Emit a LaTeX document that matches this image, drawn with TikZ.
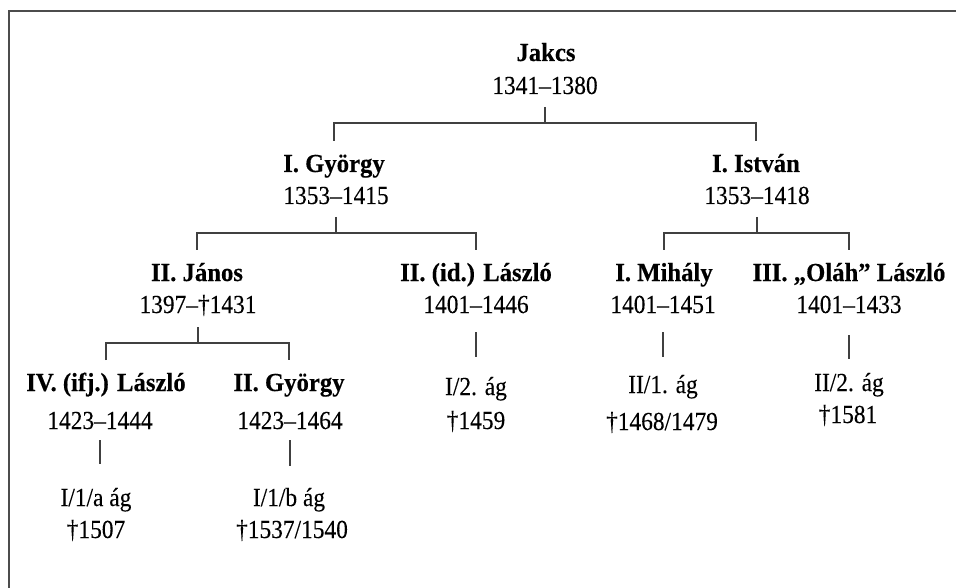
\documentclass[tikz,border=0pt]{standalone}
\usepackage{fontspec}
\setmainfont{Liberation Serif}[FakeStretch=0.9,FakeBold=0.15]
\newfontfamily\nmfont{Liberation Serif}[FakeStretch=0.95,BoldFeatures={FakeBold=0.35,FakeStretch=0.95}]
\begin{document}
\begin{tikzpicture}[x=1pt,y=-1pt,
  nm/.style={anchor=base,inner sep=0pt,font=\nmfont\fontsize{26}{30}\selectfont\bfseries},
  dt/.style={anchor=base,inner sep=0pt,font=\fontsize{26}{30}\selectfont},
  link/.style={draw=black!75,line width=1.1pt},
  framestyle/.style={draw=black!70,line width=1.5pt}]
\useasboundingbox (0,0) rectangle (956,588);
\clip (0,0) rectangle (956,588);
\fill[white] (0,0) rectangle (956,588);
% frame (open at right and bottom)
\coordinate (fr-tr) at (962,11);
\coordinate (fr-tl) at (9,11);
\coordinate (fr-bl) at (9,594);
\draw[framestyle] (fr-tr) -- (fr-tl) -- (fr-bl);
% bar levels
\coordinate (bar1) at (0,123);
\coordinate (bar2) at (0,233);
\coordinate (bar3) at (0,343);
% row 1
\node[nm] (jakcs) at (546,61) {Jakcs};
\node[dt] (jakcs-d) at (545,94) {1341–1380};
% row 2
\node[nm] (gy1) at (334,172) {I. György};
\node[dt] (gy1-d) at (336,204) {1353–1415};
\node[nm] (is1) at (756,172) {I. István};
\node[dt] (is1-d) at (757,204) {1353–1418};
% row 3
\node[nm] (ja2) at (197,281) {II. János};
\node[dt] (ja2-d) at (198,313) {1397–†1431};
\node[nm] (la2) at (476,281) {II. (id.) László};
\node[dt] (la2-d) at (476,313) {1401–1446};
\node[nm] (mi1) at (664,281) {I. Mihály};
\node[dt] (mi1-d) at (663,313) {1401–1451};
\node[nm] (la3) at (849,281) {III. „Oláh” László};
\node[dt] (la3-d) at (849,313) {1401–1433};
% branch labels of row 3
\node[dt] (br-i2) at (476,395) {I/2. ág};
\node[dt] (br-i2-d) at (476,429) {†1459};
\node[dt] (br-ii1) at (663,393) {II/1. ág};
\node[dt] (br-ii1-d) at (662,430) {†1468/1479};
\node[dt] (br-ii2) at (849,391) {II/2. ág};
\node[dt] (br-ii2-d) at (848,423) {†1581};
% row 4
\node[nm] (la4) at (106,391) {IV. (ifj.) László};
\node[dt] (la4-d) at (100,429) {1423–1444};
\node[nm] (gy2) at (289,391) {II. György};
\node[dt] (gy2-d) at (290,429) {1423–1464};
\node[dt] (br-i1a) at (96,506) {I/1/a ág};
\node[dt] (br-i1a-d) at (96,538) {†1507};
\node[dt] (br-i1b) at (289,506) {I/1/b ág};
\node[dt] (br-i1b-d) at (292,538) {†1537/1540};
% connectors: Jakcs
\draw[link] ([yshift=-13pt]jakcs-d.base) -- (jakcs-d.base |- bar1);
\draw[link] ([yshift=31pt]gy1.base) -- (gy1.base |- bar1) -- (is1.base |- bar1) -- ([yshift=31pt]is1.base);
% György I
\draw[link] ([yshift=-13pt]gy1-d.base) -- (gy1-d.base |- bar2);
\draw[link] ([yshift=31pt]ja2.base) -- (ja2.base |- bar2) -- (la2.base |- bar2) -- ([yshift=31pt]la2.base);
% István I
\draw[link] ([yshift=-13pt]is1-d.base) -- (is1-d.base |- bar2);
\draw[link] ([yshift=31pt]mi1.base) -- (mi1.base |- bar2) -- (la3.base |- bar2) -- ([yshift=31pt]la3.base);
% János II
\draw[link] ([yshift=-14pt]ja2-d.base) -- (ja2-d.base |- bar3);
\draw[link] ([yshift=31pt]la4.base) -- (la4.base |- bar3) -- (gy2.base |- bar3) -- ([yshift=31pt]gy2.base);
% single descents
\draw[link] ([yshift=-19pt]la2-d.base) -- ([yshift=-44pt]la2-d.base);
\draw[link] ([yshift=-19pt]mi1-d.base) -- ([yshift=-44pt]mi1-d.base);
\draw[link] ([yshift=-22pt]la3-d.base) -- ([yshift=-46pt]la3-d.base);
\draw[link] ([yshift=-11pt]la4-d.base) -- ([yshift=-35pt]la4-d.base);
\draw[link] ([yshift=-11pt]gy2-d.base) -- ([yshift=-37pt]gy2-d.base);
\end{tikzpicture}
\end{document}
